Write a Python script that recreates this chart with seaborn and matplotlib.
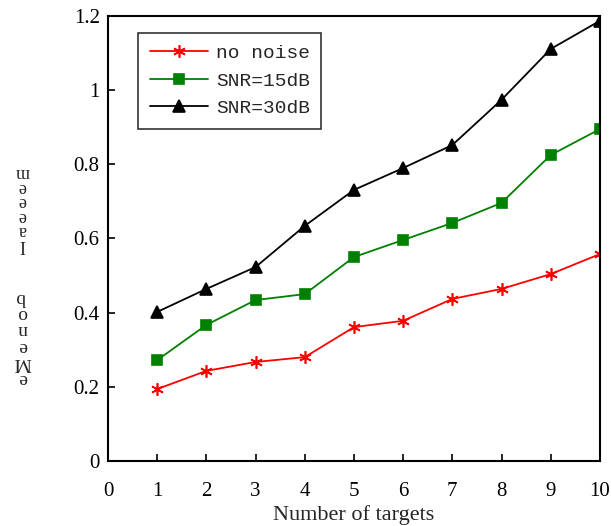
import matplotlib
matplotlib.use("Agg")
import matplotlib.pyplot as plt
import pandas as pd
import seaborn as sns

# values
targets = [1, 2, 3, 4, 5, 6, 7, 8, 9, 10]
no_noise = [0.194, 0.243, 0.267, 0.280, 0.361, 0.378, 0.437, 0.464, 0.504, 0.558]
snr15 = [0.272, 0.367, 0.434, 0.450, 0.550, 0.596, 0.642, 0.696, 0.825, 0.895]
snr30 = [0.402, 0.464, 0.523, 0.634, 0.731, 0.790, 0.852, 0.974, 1.111, 1.187]
series_names = ["no noise", "SNR=15dB", "SNR=30dB"]
x_ticks = list(range(0, 11))
y_ticks = [0, 0.2, 0.4, 0.6, 0.8, 1.0, 1.2]
y_tick_labels = ["0", "0.2", "0.4", "0.6", "0.8", "1", "1.2"]

sns.set_style("white")
plt.rcParams['font.family'] = ['Liberation Serif', 'DejaVu Serif']

fig = plt.figure(figsize=(6.11, 5.26), dpi=100)
ax = fig.add_axes([0.1768, 0.1236, 0.805, 0.846])

colors = ["#ff0000", "#008000", "#000000"]
markers = [(6, 2, 0), "s", "^"]
msizes = [9, 7, 8]
for name, vals, c, m, ms in zip(series_names, [no_noise, snr15, snr30], colors, markers, msizes):
    sns.lineplot(x=targets, y=vals, color=c, marker=m, label=name, ax=ax,
                 linewidth=1.3, markersize=ms, markeredgewidth=1.2,
                 markeredgecolor=c, markerfacecolor=c)

ax.set_xlim(0, 10)
ax.set_ylim(0, 1.2)
ax.set_xticks(x_ticks)
ax.set_yticks(y_ticks)
ax.set_yticklabels(y_tick_labels)
ax.tick_params(direction='in', length=5, width=1.2, labelsize=15,
               bottom=True, left=True, colors='black')
ax.tick_params(axis='x', pad=15)
ax.tick_params(axis='y', pad=6)
for s in ax.spines.values():
    s.set_visible(True)
    s.set_linewidth(1.5)
    s.set_color('black')

ax.set_xlabel("Number of targets", fontsize=16, va='center')
ax.xaxis.set_label_coords(0.5, -0.121)
ax.set_ylabel("")

# garbled vertical y label as in the reference (glyphs stacked, upside down)
fig.text(0.037, 1 - 209 / 526, "I\na\ne\ne\ne\nm", rotation=180, fontsize=13,
         ha='center', va='center', linespacing=0.8)
fig.text(0.037, 1 - 338 / 526, "e\nM\ne\nn\no\nb", rotation=180, fontsize=14,
         ha='center', va='center', linespacing=0.95)

leg = ax.legend(loc='upper left', bbox_to_anchor=(0.061, 0.962),
                prop={'family': 'Liberation Mono', 'size': 14},
                frameon=True, fancybox=False, edgecolor='black', borderaxespad=0,
                handlelength=3.0, handletextpad=0.4, borderpad=0.6, labelspacing=0.5)
leg.get_frame().set_linewidth(1.2)

fig.savefig("out.png", dpi=100)
